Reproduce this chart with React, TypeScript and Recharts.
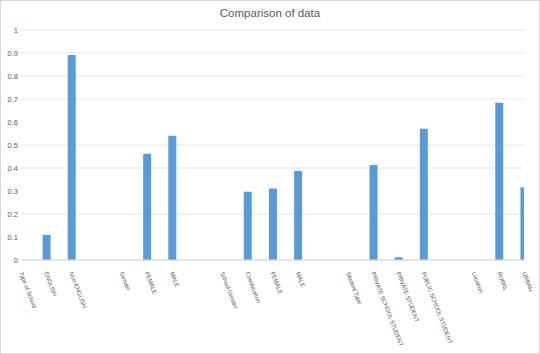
import { Bar, BarChart, CartesianGrid, XAxis, YAxis } from "recharts";

const categories = [
  "Type of School",
  "ENGLISH",
  "Non-ENGLISH",
  "",
  "Gender",
  "FEMALE",
  "MALE",
  "",
  "School Gender",
  "Coeducation",
  "FEMALE",
  "MALE",
  "",
  "Student Type",
  "PRIVATE SCHOOL STUDENT",
  "PRIVATE STUDENT",
  "PUBLIC SCHOOL STUDENT",
  "",
  "Location",
  "RURAL",
  "URBAN",
];

const values: (number | null)[] = [
  null, 0.109, 0.891, null,
  null, 0.462, 0.54, null,
  null, 0.297, 0.311, 0.387, null,
  null, 0.413, 0.012, 0.571, null,
  null, 0.684, 0.316,
];

const yTicks = [0, 0.1, 0.2, 0.3, 0.4, 0.5, 0.6, 0.7, 0.8, 0.9, 1];

const data = categories.map((name, i) => ({ idx: i, name, value: values[i] }));
const xTicks = categories.map((_, i) => i);

const font = "Liberation Sans, Arial, sans-serif";
const narrow = "'Liberation Sans Narrow', 'Arial Narrow', 'Liberation Sans', sans-serif";

function CategoryTick(props: any) {
  const { x, y, payload } = props;
  return (
    <g transform={`translate(${x},${y + 4})`}>
      <text
        x={0}
        y={0}
        dy="0.35em"
        transform="rotate(69)"
        textAnchor="start"
        fontSize={6}
        letterSpacing={-0.1}
        fontFamily={narrow}
        fill="#595959"
      >
        {categories[payload.value]}
      </text>
    </g>
  );
}

export default function App() {
  return (
    <div
      style={{
        position: "fixed",
        left: 0,
        top: 0,
        width: 540,
        height: 354,
        boxSizing: "border-box",
        border: "1px solid #d9d9d9",
        background: "#fff",
        fontFamily: font,
      }}
    >
      <div
        style={{
          position: "absolute",
          top: 6,
          width: "100%",
          textAlign: "center",
          fontSize: 11.5,
          color: "#595959",
        }}
      >
        Comparison of data
      </div>
      <BarChart
        width={538}
        height={352}
        data={data}
        margin={{ top: 29, right: 15, left: 0, bottom: 0 }}
        style={{ overflow: "visible" }}
      >
        <CartesianGrid vertical={false} stroke="#e3e3e3" />
        <XAxis
          type="number"
          dataKey="idx"
          domain={[0, 20]}
          ticks={xTicks}
          interval={0}
          allowDataOverflow
          height={93}
          tick={<CategoryTick />}
          tickLine={false}
          axisLine={{ stroke: "#d9d9d9" }}
        />
        <YAxis
          domain={[0, 1]}
          ticks={yTicks}
          width={20}
          tickLine={false}
          axisLine={false}
          tickSize={0}
          tickMargin={3}
          tick={{ fontSize: 7.5, fill: "#595959", fontFamily: font }}
        />
        <Bar dataKey="value" fill="#5b9bd5" barSize={8} isAnimationActive={false} />
      </BarChart>
    </div>
  );
}
